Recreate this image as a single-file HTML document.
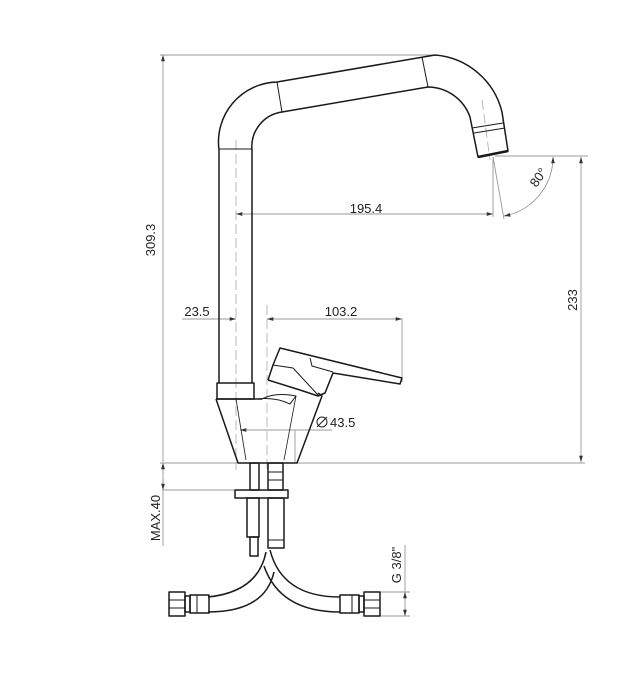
<!DOCTYPE html>
<html><head><style>html,body{margin:0;padding:0;background:#fff}svg{display:block}text{font-family:"Liberation Sans",Arial,sans-serif;font-size:13px;fill:#222}</style></head>
<body>
<svg width="642" height="700" viewBox="0 0 642 700" xmlns="http://www.w3.org/2000/svg">
<defs>
<marker id="a" viewBox="0 0 10 10" refX="10" refY="5" markerWidth="7" markerHeight="7" orient="auto-start-reverse"><path d="M0,2 L10,5 L0,8z" fill="#333"/></marker>
</defs>
<g stroke="#999" stroke-width="0.9" fill="none">
<line x1="160" y1="55" x2="435" y2="55"/>
<line x1="163" y1="55" x2="163" y2="462" marker-start="url(#a)"/>
<line x1="160" y1="463" x2="585" y2="463"/>
<line x1="495" y1="156" x2="588" y2="156"/>
<line x1="581" y1="157" x2="581" y2="462" marker-start="url(#a)" marker-end="url(#a)"/>
<line x1="236" y1="214" x2="493" y2="214" marker-start="url(#a)" marker-end="url(#a)"/>
<line x1="493" y1="157" x2="493" y2="217"/>
<line x1="493" y1="157" x2="504" y2="219"/>
<path d="M504,216 A60,60 0 0 0 553,157" marker-start="url(#a)" marker-end="url(#a)"/>
<line x1="182" y1="319" x2="236" y2="319" marker-end="url(#a)"/>
<line x1="267" y1="319" x2="402" y2="319" marker-start="url(#a)" marker-end="url(#a)"/>
<line x1="402" y1="319" x2="402" y2="382"/>
<line x1="240" y1="430" x2="332" y2="430" marker-start="url(#a)"/>
<line x1="295" y1="430" x2="295" y2="462"/>
<line x1="163" y1="490" x2="235" y2="490"/>
<line x1="163" y1="463" x2="163" y2="546"/>
<line x1="380" y1="592" x2="410" y2="592"/>
<line x1="380" y1="616" x2="410" y2="616"/>
<line x1="405" y1="545" x2="405" y2="616" />
<line x1="405" y1="600" x2="405" y2="592" marker-end="url(#a)"/>
<line x1="405" y1="608" x2="405" y2="616" marker-end="url(#a)"/>
<line x1="163" y1="475" x2="163" y2="463" marker-end="url(#a)"/>
<line x1="163" y1="478" x2="163" y2="490" marker-end="url(#a)"/>
</g>
<g stroke="#aaa" stroke-width="0.8" fill="none" stroke-dasharray="10,4">
<line x1="236" y1="140" x2="236" y2="470"/>
<line x1="267" y1="305" x2="267" y2="470"/>
<line x1="482" y1="100" x2="490" y2="160"/>
</g>
<g stroke="#1a1a1a" stroke-width="1.5" fill="none" stroke-linejoin="round">
<path d="M219,383 L219,150 A60,60 0 0 1 277,82 L435,55 A75,75 0 0 1 502,112 L508,151 L478,157 L470,117 A45,45 0 0 0 428,87 L282,112 A35,35 0 0 0 252,150 L252,383"/>
<line x1="277" y1="82" x2="282" y2="112" stroke-width="1"/>
<line x1="422" y1="57" x2="428" y2="87" stroke-width="1"/>
<line x1="219" y1="149" x2="252" y2="149" stroke-width="1"/>
<line x1="472" y1="128" x2="503" y2="123" stroke-width="1"/>
<line x1="474" y1="133" x2="505" y2="128" stroke-width="1"/>
<line x1="478" y1="157" x2="508" y2="151" stroke-width="2.5"/>
<rect x="217" y="383" width="37" height="16"/>
<path d="M216,399 L238,463 L297,463 L322,396 L318,393 M216,399 L262,399"/>
<path d="M262,399 Q275,392 296,396 L290,404 Q275,397 258,399" stroke-width="1"/>
<line x1="236" y1="399" x2="246" y2="460" stroke-width="0.8"/>
<line x1="296" y1="396" x2="284" y2="460" stroke-width="0.8"/>
<path d="M268,380 L273,365 L280,348 L402,378 L400,384 L333,373 L325,393 L318,396 L300,390 L268,380"/>
<path d="M273,365 L293,368 L318,395" stroke-width="1"/>
<path d="M310,358 L312,366 L333,372" stroke-width="1"/>
<rect x="250" y="463" width="9" height="27"/>
<rect x="268" y="463" width="15" height="27"/>
<line x1="268" y1="472" x2="283" y2="472" stroke-width="1"/>
<line x1="268" y1="480" x2="283" y2="480" stroke-width="1"/>
<rect x="235" y="490" width="53" height="8"/>
<rect x="247" y="498" width="12" height="39"/>
<rect x="250" y="537" width="8" height="19"/>
<rect x="268" y="498" width="16" height="50"/>
<line x1="268" y1="540" x2="284" y2="540" stroke-width="1"/>
<path d="M266,552 Q258,592 208,597"/>
<path d="M274,572 Q265,612 208,612"/>
<path d="M270,550 Q282,597 340,597"/>
<path d="M264,566 Q280,612 340,612"/>
<rect x="169" y="592" width="16" height="24"/>
<line x1="169" y1="600" x2="185" y2="600" stroke-width="1"/>
<line x1="169" y1="608" x2="185" y2="608" stroke-width="1"/>
<rect x="185" y="596" width="5" height="16"/>
<rect x="190" y="595" width="19" height="18"/>
<line x1="197" y1="595" x2="197" y2="613" stroke-width="1"/>
<rect x="340" y="595" width="19" height="18"/>
<line x1="352" y1="595" x2="352" y2="613" stroke-width="1"/>
<rect x="359" y="596" width="5" height="16"/>
<rect x="364" y="592" width="16" height="24"/>
<line x1="364" y1="600" x2="380" y2="600" stroke-width="1"/>
<line x1="364" y1="608" x2="380" y2="608" stroke-width="1"/>
</g>
<circle cx="322" cy="422" r="5" fill="none" stroke="#222" stroke-width="1"/>
<line x1="317" y1="427" x2="327" y2="417" stroke="#222" stroke-width="1"/>
<text x="366" y="213" text-anchor="middle">195.4</text>
<text x="197" y="316" text-anchor="middle">23.5</text>
<text x="341" y="316" text-anchor="middle">103.2</text>
<text x="330" y="427">43.5</text>
<text transform="translate(155,240) rotate(-90)" text-anchor="middle">309.3</text>
<text transform="translate(577,300) rotate(-90)" text-anchor="middle">233</text>
<text transform="translate(542,180) rotate(-55)" text-anchor="middle">80°</text>
<text transform="translate(160,518) rotate(-90)" text-anchor="middle">MAX.40</text>
<text transform="translate(401,565) rotate(-90)" text-anchor="middle">G 3/8"</text>
</svg>
</body></html>
